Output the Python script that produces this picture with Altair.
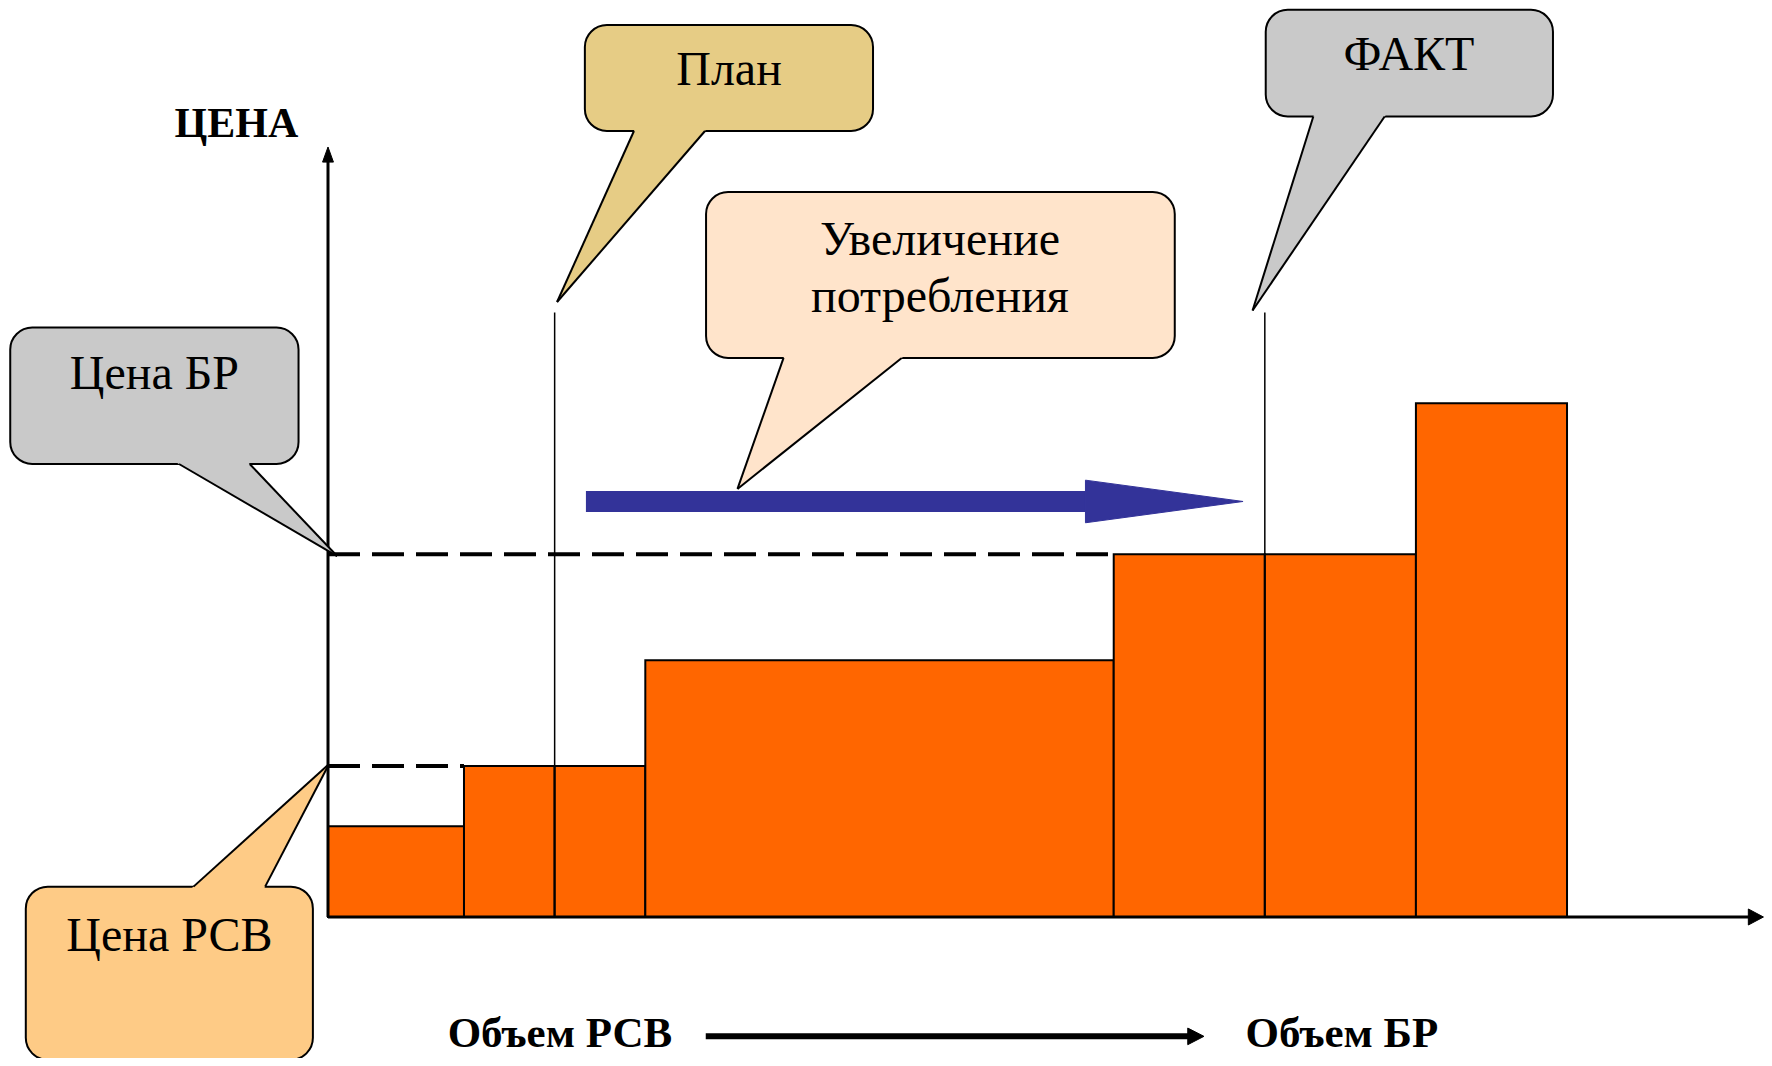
import altair as alt
import pandas as pd

# ---------------- data (x = volume units, y = price units) ----------------
bar_widths = [9, 6, 6, 31, 10, 10, 10]
bar_prices = [6, 10, 10, 17, 24, 24, 34]

price_rsv = 10          # Цена РСВ level
price_br = 24           # Цена БР level
rsv_dash_end = 9
br_dash_end = 52
plan_volume = 15
fact_volume = 62
marker_top = 40

y_axis_top = 50.96
x_axis_end = 95.0

growth_start, growth_head, growth_tip = 17.07, 50.13, 60.56
growth_level = 27.5
growth_shaft_half, growth_head_half = 0.69, 1.41

vol_start, vol_head, vol_tip = 25.0, 56.9, 57.97
vol_level = -7.9
vol_head_half = 0.55

# callouts
callout_id = ["plan", "fact", "growth", "price_br", "price_rsv"]
callout_fill = ["#E6CC85", "#C9C9C9", "#FFE4CB", "#C9C9C9", "#FECB86"]
box_x1 = [17.0, 62.06, 25.02, -21.03, -20.0]
box_x2 = [36.07, 81.07, 56.04, -1.95, -1.0]
box_y1 = [52.02, 52.98, 37.0, 29.98, -9.45]
box_y2 = [59.03, 60.04, 47.98, 39.01, 2.01]
tail_apex_x = [15.16, 61.19, 27.1, 0.6, 0.07]
tail_apex_y = [40.7, 40.14, 28.33, 23.89, 10.13]
tail_base_x1 = [20.25, 65.21, 30.15, -9.86, -8.9]
tail_base_x2 = [24.95, 69.93, 37.97, -5.18, -4.16]
tail_base_y = [52.02, 52.98, 37.0, 29.98, 2.01]

label_text = ["План", "ФАКТ", "Увеличение", "потребления", "Цена БР", "Цена РСВ"]
label_x = [26.54, 71.54, 40.5, 40.5, -11.49, -10.49]
label_y = [55.06, 56.06, 43.81, 40.04, 34.95, -2.25]

bold_text = ["ЦЕНА", "Объем РСВ", "Объем БР"]
bold_x = [-6.06, 15.35, 67.1]
bold_y = [51.62, -8.62, -8.62]
bold_size = [42, 43, 43]

# ---------------- layout ----------------
U = 15.11
W, H = 1756, 1050
OX, OY = 320, 909
XMIN, XMAX = -OX / U, (W - OX) / U
YMIN, YMAX = -(H - OY) / U, OY / U
xs = alt.Scale(domain=[XMIN, XMAX], nice=False, zero=False)
ys = alt.Scale(domain=[YMIN, YMAX], nice=False, zero=False)


def X(f):
    return alt.X(f, type="quantitative", scale=xs, axis=None)


def Y(f):
    return alt.Y(f, type="quantitative", scale=ys, axis=None, stack=None)


def tri_nodes(pts):
    pts = sorted(pts)
    (x0, y0), (x1, y1), (x2, y2) = pts
    yi = y0 + (y2 - y0) * (x1 - x0) / (x2 - x0)
    nodes = [(x0, y0, y0), (x1, min(y1, yi), max(y1, yi)), (x2, y2, y2)]
    merged = []
    for x, lo, hi in nodes:
        if merged and abs(merged[-1][0] - x) < 1e-9:
            px, plo, phi = merged[-1]
            merged[-1] = (x, min(plo, lo), max(phi, hi))
        else:
            merged.append((x, lo, hi))
    return merged


# bars
edges = [0]
for w in bar_widths:
    edges.append(edges[-1] + w)
bars_df = pd.DataFrame({"x0": edges[:-1], "x1": edges[1:],
                        "p0": [0] * len(bar_prices), "p1": bar_prices})

# segments
dash_df = pd.DataFrame({"x": [0, 0], "x2": [rsv_dash_end, br_dash_end],
                        "y": [price_rsv, price_br], "y2": [price_rsv, price_br]})
seg_main_df = pd.DataFrame([
    (plan_volume, 0, plan_volume, marker_top, 1.5),
    (fact_volume, 0, fact_volume, marker_top, 1.5),
    (0, 0, 0, y_axis_top - 0.9, 3),
    (0, 0, x_axis_end - 0.9, 0, 3),
    (vol_start, vol_level, vol_head + 0.05, vol_level, 6),
], columns=["x", "y", "x2", "y2", "w"])
tail_rows = []
for i in range(len(callout_id)):
    ax, ay = tail_apex_x[i], tail_apex_y[i]
    tail_rows.append((ax, ay, tail_base_x1[i], tail_base_y[i]))
    tail_rows.append((ax, ay, tail_base_x2[i], tail_base_y[i]))
seg_tail_df = pd.DataFrame(tail_rows, columns=["x", "y", "x2", "y2"])


# arrowhead polygons (drawn as closed filled lines)
def poly_rows(name, pts):
    return [{"id": name, "k": k, "x": p[0], "y": p[1]} for k, p in enumerate(pts)]


black_heads = pd.DataFrame(
    poly_rows("yhead", [(0, y_axis_top), (-0.36, y_axis_top - 1.0), (0.36, y_axis_top - 1.0)])
    + poly_rows("xhead", [(x_axis_end, 0), (x_axis_end - 1.0, 0.53), (x_axis_end - 1.0, -0.53)])
    + poly_rows("volhead", [(vol_tip, vol_level), (vol_head, vol_level + vol_head_half),
                            (vol_head, vol_level - vol_head_half)])
)
blue_head = pd.DataFrame(
    poly_rows("growthhead", [(growth_tip, growth_level), (growth_head, growth_level + growth_head_half),
                             (growth_head, growth_level - growth_head_half)])
)

boxes_df = pd.DataFrame({"id": callout_id, "fill": callout_fill, "x1": box_x1, "x2": box_x2,
                         "y1": box_y1, "y2": box_y2})
shaft_df = pd.DataFrame({"x1": [growth_start], "x2": [growth_head],
                         "y1": [growth_level - growth_shaft_half], "y2": [growth_level + growth_shaft_half]})
labels_df = pd.DataFrame({"t": label_text, "x": label_x, "y": label_y})
bold_df = pd.DataFrame({"t": bold_text, "x": bold_x, "y": bold_y, "s": bold_size})

# ---------------- layers ----------------
bars = alt.Chart(bars_df).mark_rect(fill="#FF6600", stroke="black", strokeWidth=2).encode(
    x=X("x0"), x2=alt.X2("x1"), y=Y("p0"), y2=alt.Y2("p1"))

dashes = alt.Chart(dash_df).mark_rule(color="black", strokeWidth=4, strokeDash=[32, 12]).encode(
    x=X("x"), x2=alt.X2("x2"), y=Y("y"), y2=alt.Y2("y2"))

main_segs = alt.Chart(seg_main_df).mark_rule(color="black").encode(
    x=X("x"), x2=alt.X2("x2"), y=Y("y"), y2=alt.Y2("y2"),
    strokeWidth=alt.StrokeWidth("w:Q", scale=None))

heads_black = alt.Chart(black_heads).mark_line(
    interpolate="linear-closed", fill="black", stroke="black", strokeWidth=1).encode(
    x=X("x"), y=Y("y"), detail="id:N", order=alt.Order("k:Q"))

head_blue = alt.Chart(blue_head).mark_line(
    interpolate="linear-closed", fill="#333399", stroke="#333399", strokeWidth=1).encode(
    x=X("x"), y=Y("y"), detail="id:N", order=alt.Order("k:Q"))

shaft = alt.Chart(shaft_df).mark_rect(fill="#333399").encode(
    x=X("x1"), x2=alt.X2("x2"), y=Y("y1"), y2=alt.Y2("y2"))

boxes = alt.Chart(boxes_df).mark_rect(cornerRadius=22, stroke="black", strokeWidth=2, clip=True).encode(
    x=X("x1"), x2=alt.X2("x2"), y=Y("y1"), y2=alt.Y2("y2"),
    fill=alt.Fill("fill:N", scale=None))

# tail fills: one area layer per callout, triangle extended slightly into its box
tail_layers = []
ext = 0.03
for i in range(len(callout_id)):
    ax, ay = tail_apex_x[i], tail_apex_y[i]
    b1 = (tail_base_x1[i], tail_base_y[i])
    b2 = (tail_base_x2[i], tail_base_y[i])
    b1e = (b1[0] + (b1[0] - ax) * ext, b1[1] + (b1[1] - ay) * ext)
    b2e = (b2[0] + (b2[0] - ax) * ext, b2[1] + (b2[1] - ay) * ext)
    nodes = tri_nodes([(ax, ay), b1e, b2e])
    df = pd.DataFrame(nodes, columns=["x", "lo", "hi"])
    tail_layers.append(
        alt.Chart(df).mark_area(fill=callout_fill[i], opacity=1, interpolate="linear").encode(
            x=X("x"), y=Y("lo"), y2=alt.Y2("hi"))
    )

tail_edges = alt.Chart(seg_tail_df).mark_rule(color="black", strokeWidth=2).encode(
    x=X("x"), x2=alt.X2("x2"), y=Y("y"), y2=alt.Y2("y2"))

labels = alt.Chart(labels_df).mark_text(font="Liberation Serif", fontSize=48, align="center",
                                         baseline="alphabetic", color="black").encode(
    x=X("x"), y=Y("y"), text="t:N")

bold_labels = alt.Chart(bold_df).mark_text(font="Liberation Serif", fontWeight="bold", align="center",
                                            baseline="alphabetic", color="black").encode(
    x=X("x"), y=Y("y"), text="t:N", size=alt.Size("s:Q", scale=None))

chart = alt.layer(
    bars, dashes, main_segs, heads_black, shaft, head_blue, boxes, *tail_layers, tail_edges,
    labels, bold_labels
).properties(
    width=W, height=H, padding=0, autosize=alt.AutoSizeParams(type="none"), background="white"
).configure_view(stroke=None)

chart.save("out.html", embed_options={"renderer": "svg", "actions": False})
